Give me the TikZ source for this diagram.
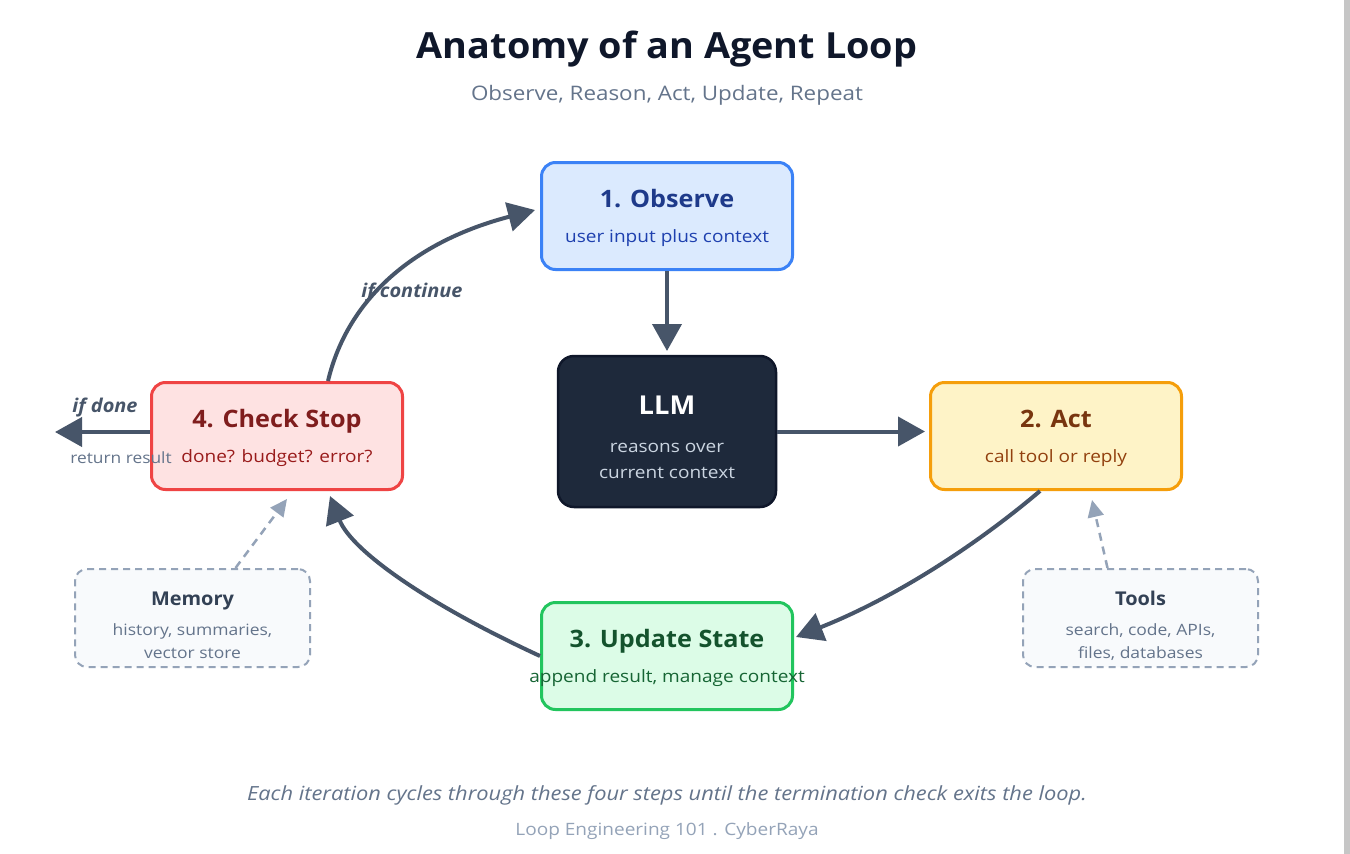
\documentclass[tikz,border=0pt]{standalone}
\usepackage{fontspec}
\setmainfont{Open Sans}[FakeStretch=1.12]
\newfontfamily\boldf{Open Sans}[FakeStretch=1.05]
\usetikzlibrary{arrows.meta}
\definecolor{ink}{HTML}{0F172A}
\definecolor{slate}{HTML}{64748B}
\definecolor{slatel}{HTML}{94A3B8}
\definecolor{arrowc}{HTML}{475569}
\definecolor{memtxt}{HTML}{334155}
\definecolor{obsfill}{HTML}{DBEAFE}\definecolor{obsline}{HTML}{3B82F6}\definecolor{obsttl}{HTML}{1E3A8A}\definecolor{obssub}{HTML}{1E40AF}
\definecolor{actfill}{HTML}{FEF3C7}\definecolor{actline}{HTML}{F59E0B}\definecolor{actttl}{HTML}{78350F}\definecolor{actsub}{HTML}{92400E}
\definecolor{updfill}{HTML}{DCFCE7}\definecolor{updline}{HTML}{22C55E}\definecolor{updttl}{HTML}{14532D}\definecolor{updsub}{HTML}{166534}
\definecolor{chkfill}{HTML}{FEE2E2}\definecolor{chkline}{HTML}{EF4444}\definecolor{chkttl}{HTML}{7F1D1D}\definecolor{chksub}{HTML}{991B1B}
\definecolor{llmfill}{HTML}{1E293B}\definecolor{llmline}{HTML}{0F172A}\definecolor{llmsub}{HTML}{CBD5E1}
\definecolor{auxfill}{HTML}{F8FAFC}
\definecolor{strip}{HTML}{C6C6C6}
\newcommand{\fs}[1]{\fontsize{#1}{#1}\selectfont}
\begin{document}
\begin{tikzpicture}[x=1pt,y=-1pt,
  stepbox/.style={rectangle, rounded corners=14pt, line width=3pt, minimum width=251pt, minimum height=107pt, inner sep=0pt},
  auxbox/.style={rectangle, rounded corners=12pt, line width=2pt, draw=slatel, fill=auxfill, dash pattern=on 7pt off 5pt, minimum width=235pt, minimum height=98pt, inner sep=0pt},
  ttl/.style={anchor=base, inner sep=0pt, font=\boldf\fs{24}\bfseries},
  sub/.style={anchor=base, inner sep=0pt, font=\fs{17}},
  auxttl/.style={anchor=base, inner sep=0pt, font=\boldf\fs{19}\bfseries, text=memtxt},
  auxsub/.style={anchor=base, inner sep=0pt, font=\fs{15.6}, text=slate},
  flow/.style={line width=4pt, draw=arrowc, -{Triangle[length=27pt,width=29pt]}},
  dashflow/.style={line width=2.5pt, draw=slatel, dash pattern=on 8pt off 6pt, -{Triangle[length=17pt,width=16pt]}},
  lbl/.style={anchor=base, inner sep=0pt, font=\boldf\fs{19}\bfseries\itshape, text=arrowc}
]
\useasboundingbox[fill=white] (0,0) rectangle (1350,854);
\fill[strip] (1344,0) rectangle (1350,854);

% titles
\node[anchor=base, inner sep=0pt, font=\boldf\fs{36}\bfseries, text=ink] (title) at (667,58) {Anatomy of an Agent Loop};
\node[anchor=base, inner sep=0pt, font=\fs{20}, text=slate] (subtitle) at (667,100) {Observe, Reason, Act, Update, Repeat};

% boxes
\node[stepbox, fill=obsfill, draw=obsline] (obs) at (667,216) {};
\node[stepbox, fill=actfill, draw=actline] (act) at (1056,436) {};
\node[stepbox, fill=updfill, draw=updline] (upd) at (667,656) {};
\node[stepbox, fill=chkfill, draw=chkline] (chk) at (277,436) {};
\node[rectangle, rounded corners=16pt, line width=2.5pt, fill=llmfill, draw=llmline, minimum width=218pt, minimum height=151pt, inner sep=0pt] (llm) at (667,431.5) {};
\node[auxbox] (mem) at (192.5,618) {};
\node[auxbox] (tools) at (1140.5,618) {};

% box texts
\node[ttl, text=obsttl] (obsT) at (667,207) {1. Observe};
\node[sub, text=obssub] (obsS) at (667,242) {user input plus context};
\node[ttl, text=actttl] (actT) at (1056,427) {2. Act};
\node[sub, text=actsub] (actS) at (1056,462) {call tool or reply};
\node[ttl, text=updttl] (updT) at (667,647) {3. Update State};
\node[sub, text=updsub] (updS) at (667,682) {append result, manage context};
\node[ttl, text=chkttl] (chkT) at (277,427) {4. Check Stop};
\node[sub, text=chksub] (chkS) at (277,462) {done? budget? error?};
\node[anchor=base, inner sep=0pt, font=\boldf\fs{26}\bfseries, text=white] (llmT) at (667,414) {LLM};
\node[sub, text=llmsub] (llmS1) at (667,452) {reasons over};
\node[sub, text=llmsub] (llmS2) at (667,478) {current context};
\node[auxttl] (memT) at (192.5,605) {Memory};
\node[auxsub] (memS1) at (192.5,635) {history, summaries,};
\node[auxsub] (memS2) at (192.5,658) {vector store};
\node[auxttl] (toolsT) at (1140.5,605) {Tools};
\node[auxsub] (toolsS1) at (1140.5,635) {search, code, APIs,};
\node[auxsub] (toolsS2) at (1140.5,658) {files, databases};

% connectors
\draw[flow] (obs.south) -- ([yshift=-80pt]obs.south);
\draw[flow] (llm.east) -- ([xshift=-4pt]act.west |- llm.east);
\draw[flow] ([xshift=-16pt]act.south) .. controls (968,552) and (887,601) .. ([xshift=2pt,yshift=19pt]upd.east);
\draw[flow] (upd.west) .. controls (421,601) and (351,549) .. ([xshift=53pt,yshift=-5pt]chk.south);
\draw[flow] ([xshift=51pt]chk.north) .. controls (348,297) and (416,241) .. ([xshift=-5pt,yshift=6pt]obs.west);
\coordinate (exit) at (55,432);
\draw[flow] ([yshift=4pt]chk.west) -- (exit);
\draw[dashflow] ([xshift=43pt]mem.north) -- ([xshift=10pt,yshift=-8pt]chk.south);
\draw[dashflow] ([xshift=-33pt]tools.north) -- ([xshift=36pt,yshift=-9pt]act.south);

% labels
\node[lbl] (cont) at (412,297) {if continue};
\node[lbl] (done) at (105,412) {if done};
\node[anchor=base, inner sep=0pt, font=\fs{15.5}, text=slate] (ret) at (121,463) {return result};

% footer
\node[anchor=base, inner sep=0pt, font=\fs{19.5}\itshape, text=slate] (foot) at (667,800) {Each iteration cycles through these four steps until the termination check exits the loop.};
\node[anchor=base, inner sep=0pt, font=\fs{17}, text=slatel] (credit) at (667,835) {Loop Engineering 101 . CyberRaya};
\end{tikzpicture}
\end{document}
